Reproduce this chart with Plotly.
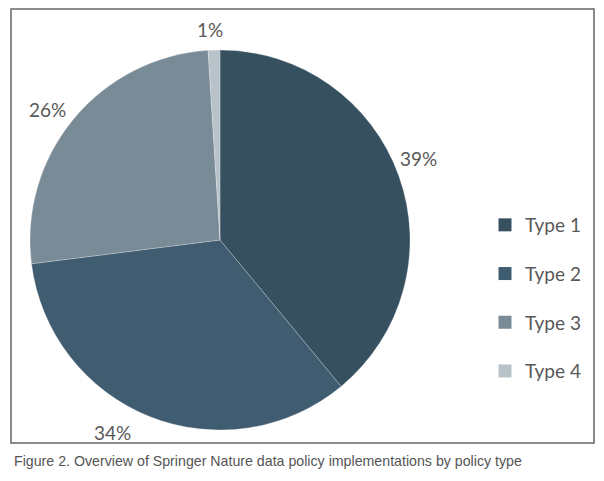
import math
import plotly.graph_objects as go

categories = ["Type 1", "Type 2", "Type 3", "Type 4"]
values = [39, 34, 26, 1]
labels_text = ["39%", "34%", "26%", "1%"]
colors = ["#36505f", "#405c70", "#7a8b98", "#b8c2c9"]
label_angle_shift = [-2.5, 7.5, -2.5, -1.0]  # degrees, label placement tweak
label_radius = [1.13, 1.16, 1.14, 1.11]

W, H = 604, 481
cx, cy, r = 220, 240, 190  # pie center/radius in pixels (from top-left)

fig = go.Figure()
fig.add_trace(go.Pie(
    labels=categories, values=values, sort=False, direction="clockwise",
    rotation=0, textinfo="none", hoverinfo="label+percent",
    marker=dict(colors=colors, line=dict(color="rgba(255,255,255,0.6)", width=0.4)),
    domain=dict(x=[(cx - r) / W, (cx + r) / W], y=[(H - cy - r) / H, (H - cy + r) / H]),
    showlegend=False,
))

# legend entries via dummy traces
for c, col in zip(categories, colors):
    fig.add_trace(go.Scatter(x=[None], y=[None], mode="markers", name=c,
                             marker=dict(symbol="square", size=13, color=col),
                             legendgroup=c, showlegend=True))

# percentage labels placed outside each slice from data
total = sum(values)
cum = 0
for v, t, sh, rf in zip(values, labels_text, label_angle_shift, label_radius):
    mid = (cum + v / 2) / total * 360 + sh
    cum += v
    a = math.radians(mid)
    px = cx + rf * r * math.sin(a)
    py = cy - rf * r * math.cos(a)
    fig.add_annotation(x=px / W, y=1 - py / H, xref="paper", yref="paper",
                       text=t, showarrow=False, xanchor="center", yanchor="middle",
                       font=dict(family="Lato, Open Sans, sans-serif", size=19, color="#595959"))

# frame
fig.add_shape(type="rect", xref="paper", yref="paper",
              x0=11 / W, x1=594 / W, y0=1 - 443 / H, y1=1 - 9 / H,
              line=dict(color="#666666", width=1.5))

# caption
fig.add_annotation(x=12 / W, y=1 - 461 / H, xref="paper", yref="paper",
                   text="Figure 2. Overview of Springer Nature data policy implementations by policy type",
                   showarrow=False, xanchor="left", yanchor="middle",
                   font=dict(family="Liberation Sans Narrow, Arial Narrow, Liberation Sans, sans-serif", size=14.2, color="#555555"))

fig.update_layout(
    width=W, height=H, margin=dict(l=0, r=0, t=0, b=0),
    paper_bgcolor="white", plot_bgcolor="white",
    xaxis=dict(visible=False), yaxis=dict(visible=False),
    legend=dict(x=485 / W, y=1 - 206 / H, xanchor="left", yanchor="top",
                tracegroupgap=21, itemwidth=30,
                font=dict(family="Lato, Open Sans, sans-serif", size=19, color="#595959"),
                bgcolor="rgba(0,0,0,0)"),
)

fig.write_html("out.html", config={"displayModeBar": False},
               post_script="document.body.style.margin='0';document.body.style.padding='0';")
